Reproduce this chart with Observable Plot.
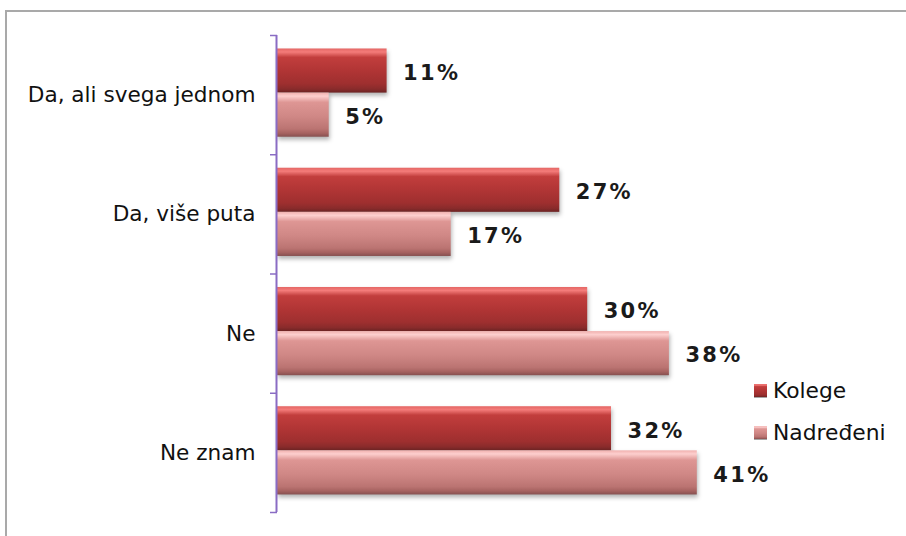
<!DOCTYPE html>
<html><head><meta charset="utf-8">
<script src="https://cdn.jsdelivr.net/npm/d3@7"></script>
<script src="https://cdn.jsdelivr.net/npm/@observablehq/plot@0.6"></script>
<style>
html,body{margin:0;padding:0;background:#fff;width:906px;height:536px;overflow:hidden;font-family:"DejaVu Sans",Verdana,sans-serif;}
#chart{position:absolute;left:0;top:0;}
#frame{position:absolute;left:5px;top:10px;width:920px;height:560px;border-top:2px solid #a9a9a9;border-left:2px solid #a9a9a9;pointer-events:none;}
#legend{position:absolute;left:754px;top:369px;}
#legend .lg-swatches{font-family:"DejaVu Sans",Verdana,sans-serif;font-size:21.8px;color:#111;margin:0;}
#legend .lg-swatch{height:42px;padding:0;margin:0;display:flex;align-items:center;}
#legend .lg-swatch > svg{margin-right:6px;filter:drop-shadow(0.5px 1px 0.5px rgba(0,0,0,0.35));}
#chart g[aria-label="rect"]{filter:drop-shadow(1px 3px 2px rgba(0,0,0,0.3));}
</style></head><body>
<svg width="0" height="0" style="position:absolute">
  <defs>
    <linearGradient id="gK" x1="0" y1="0" x2="0" y2="1">
      <stop offset="0" stop-color="#e46664"/>
      <stop offset="0.08" stop-color="#f47c7a"/>
      <stop offset="0.2" stop-color="#c23e3d"/>
      <stop offset="0.5" stop-color="#b13535"/>
      <stop offset="0.8" stop-color="#9e2f2f"/>
      <stop offset="0.92" stop-color="#892b2b"/>
      <stop offset="1" stop-color="#6c2323"/>
    </linearGradient>
    <linearGradient id="gN" x1="0" y1="0" x2="0" y2="1">
      <stop offset="0" stop-color="#f0b0ae"/>
      <stop offset="0.08" stop-color="#fdcfce"/>
      <stop offset="0.22" stop-color="#de9694"/>
      <stop offset="0.55" stop-color="#cf8785"/>
      <stop offset="0.82" stop-color="#bb7472"/>
      <stop offset="0.92" stop-color="#a66260"/>
      <stop offset="1" stop-color="#865050"/>
    </linearGradient>
  </defs>
</svg>
<div id="chart"></div>
<div id="legend"></div>
<div id="frame"></div>
<script>
const categories = ["Da, ali svega jednom", "Da, više puta", "Ne", "Ne znam"];
const series = ["Kolege", "Nadređeni"];
const kolege = [10.6, 27.3, 30.0, 32.3];
const nadredjeni = [5.0, 16.8, 37.9, 40.6];
const fills = ["url(#gK)", "url(#gN)"];
const purple = "#8a6cc4";

const values = [kolege, nadredjeni];
const rows = categories.flatMap((c, i) => series.map((s, k) => ({cat: c, i, k, series: s, value: values[k][i]})));

// layout within each category slot (fraction of slot)
const PAD = 0.113, BH = 0.37;

const plot = Plot.plot({
  width: 906,
  height: 536,
  marginLeft: 277,
  marginRight: 112,
  marginTop: 35,
  marginBottom: 24,
  style: {background: "transparent", fontFamily: "DejaVu Sans, Verdana, sans-serif"},
  x: {domain: [0, 50], axis: null},
  y: {domain: [0, categories.length], reverse: true, axis: null},
  color: {domain: series, range: fills},
  marks: [
    Plot.rectX(rows, {
      x1: 0,
      x2: "value",
      y1: d => d.i + PAD + d.k * BH,
      y2: d => d.i + PAD + (d.k + 1) * BH,
      fill: "series"
    }),
    Plot.ruleX([0], {stroke: purple, strokeWidth: 2, dx: -1}),
    Plot.axisY(d3.range(categories.length + 1), {tickSize: 7, tickFormat: () => "", color: purple, strokeWidth: 1.5, label: null}),
    Plot.text(categories, {
      frameAnchor: "left",
      y: (d, i) => i + 0.5,
      text: d => d,
      textAnchor: "end",
      dx: -22,
      fontSize: 21.6,
      fill: "#111"
    }),
    Plot.text(rows, {
      x: "value",
      y: d => d.i + PAD + (d.k + 0.5) * BH,
      text: d => Math.round(d.value) + "%",
      textAnchor: "start",
      dx: 16,
      dy: 2,
      fontSize: 21,
      fontWeight: "bold",
      fill: "#1a1a1a"
    })
  ]
});
document.getElementById("chart").appendChild(plot);
const textGroups = d3.select(plot).selectAll('g[aria-label="text"]');
textGroups.filter((d, i) => i === 1).attr("letter-spacing", "2.3px");

const legend = Plot.legend({
  color: {domain: series, range: fills, type: "ordinal"},
  legend: "swatches",
  columns: 1,
  swatchSize: 13,
  className: "lg"
});
document.getElementById("legend").appendChild(legend);
</script>
</body></html>
